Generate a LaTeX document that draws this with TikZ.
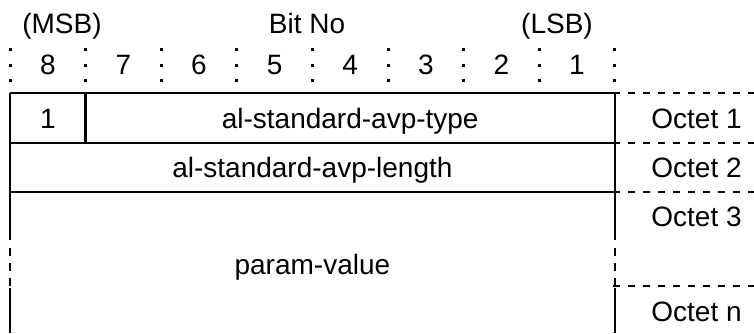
\documentclass[tikz,border=0pt]{standalone}
\usepackage{fontspec}
\setmainfont{Liberation Sans}
\begin{document}
\begin{tikzpicture}[x=0.5pt,y=-0.5pt,
  lbl/.style={font=\fontsize{14}{16}\selectfont, inner sep=0pt, anchor=base},
  olbl/.style={font=\fontsize{14}{16}\selectfont, inner sep=0pt, anchor=base west},
  frame/.style={line width=1.3pt},
  sep/.style={line width=1.5pt, dash pattern=on 1.5pt off 6.25pt},
  dsh/.style={line width=1.3pt, dash pattern=on 3.75pt off 3.75pt}]
\useasboundingbox (0,0) rectangle (754,333);
% header
\node[lbl] (msb) at (62,33) {(MSB)};
\node[lbl] (bitno) at (307,33) {Bit No};
\node[lbl] (lsb) at (557,33) {(LSB)};
% column separators and bit numbers
\foreach \k in {0,...,8} {
  \coordinate (s\k) at ({10+75.6*\k},48);
  \draw[sep] (s\k) -- ++(0,36);
}
\foreach \i/\n in {0/8,1/7,2/6,3/5,4/4,5/3,6/2,7/1} {
  \node[lbl] (b\n) at ({10+75.6*(\i+0.5)},74) {\n};
}
% frame
\coordinate (tl) at (10,93);
\coordinate (tr) at (614.8,93);
\draw[frame] (tl) -- (tr);
\draw[frame] (10,143) -- (614.8,143);
\draw[frame] (10,192) -- (614.8,192);
\draw[frame] (85.6,93) -- (85.6,143);
\foreach \x in {10,614.8} {
  \draw[frame] (\x,93) -- (\x,240);
  \draw[dsh] (\x,248) -- (\x,286);
  \draw[frame] (\x,287.5) -- (\x,333);
}
% octet dashed lines
\foreach \y in {93,143,192,286} {
  \draw[dsh] (612.8,\y) -- (754,\y);
}
% field texts
\node[lbl] (f1) at (47.8,128.5) {1};
\node[lbl] (ftype) at (350.2,128.5) {al-standard-avp-type};
\node[lbl] (flen) at (312.4,177.5) {al-standard-avp-length};
\node[lbl] (fval) at (312.4,274) {param-value};
% octet labels
\node[olbl] (o1) at (651,128.5) {Octet 1};
\node[olbl] (o2) at (651,177.5) {Octet 2};
\node[olbl] (o3) at (651,226) {Octet 3};
\node[olbl] (on) at (651,321) {Octet n};
\end{tikzpicture}
\end{document}
